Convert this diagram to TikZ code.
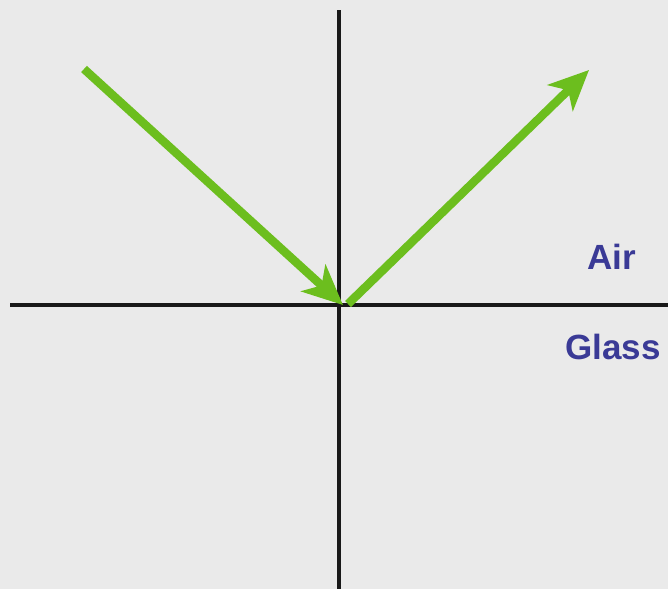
\documentclass[tikz,border=0pt]{standalone}
\usepackage{fontspec}
\setmainfont{Liberation Sans}
\usetikzlibrary{arrows.meta}
\definecolor{bg}{HTML}{EAEAEA}
\definecolor{ray}{HTML}{6CBE1E}
\definecolor{lbl}{HTML}{3A3A96}
\begin{document}
\begin{tikzpicture}[x=1pt,y=-1pt,
  axis/.style={line width=3.2pt,black!90},
  raystyle/.style={line width=8.5pt,ray,-{Stealth[length=40pt,width=36pt,inset=11pt]}},
  medium/.style={font=\fontsize{35}{38}\selectfont\bfseries,text=lbl,inner sep=0pt}]
\fill[bg] (0,0) rectangle (668,589);
\useasboundingbox (0,0) rectangle (668,589);
\coordinate (vtop) at (339,10);
\coordinate (vbot) at (339,589);
\coordinate (hl) at (10,305);
\coordinate (hr) at (668,305);
\draw[axis] (vtop) -- (vbot);
\draw[axis] (hl) -- (hr);
\coordinate (inS) at (84,69);
\coordinate (inE) at (343,305);
\coordinate (reS) at (348,304);
\coordinate (reE) at (589,70);
\draw[raystyle] (inS) -- (inE);
\draw[raystyle] (reS) -- (reE);
\node[medium] (air) at (612,257) {Air};
\node[medium] (glass) at (613,347) {Glass};
\end{tikzpicture}
\end{document}
